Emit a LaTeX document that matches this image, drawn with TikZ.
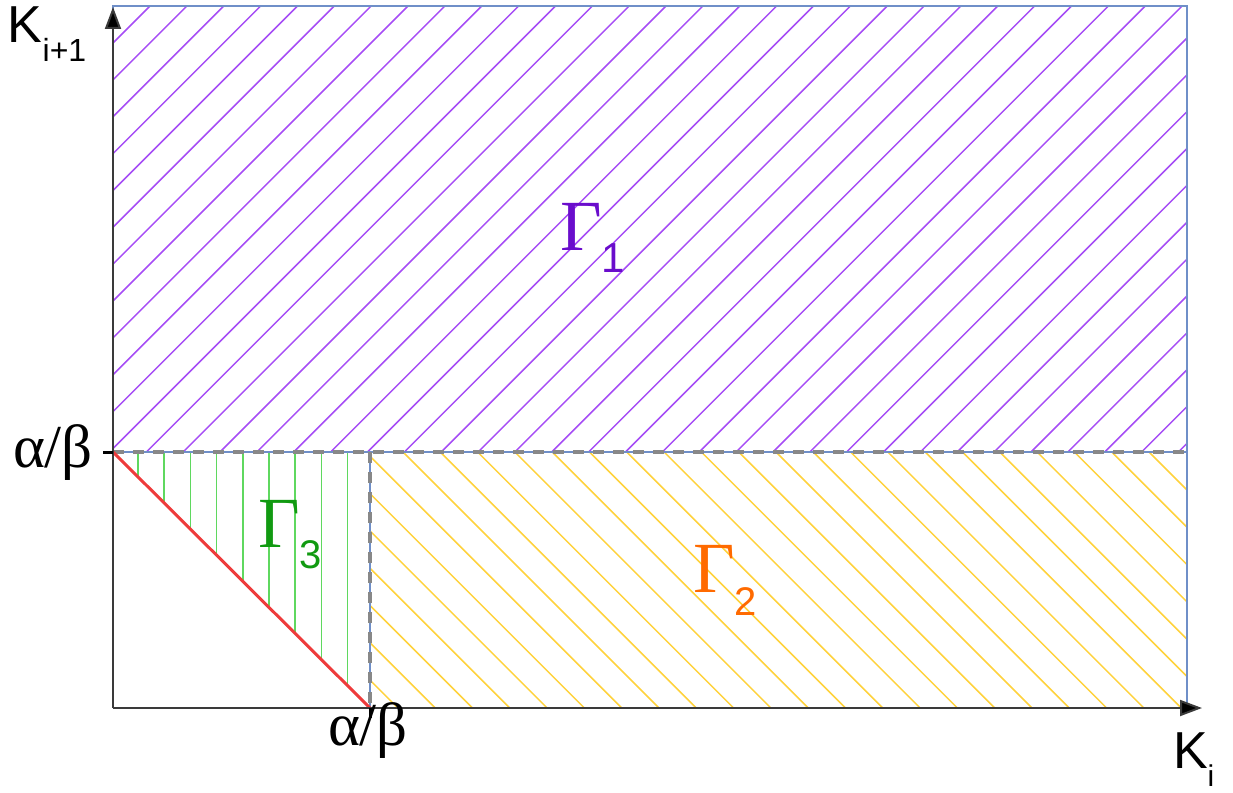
\documentclass[tikz,border=0pt]{standalone}
\usepackage{fontspec}
\setmainfont{Liberation Serif}
\newfontfamily\sansf{Liberation Sans}
\usetikzlibrary{arrows.meta}
\definecolor{hpurple}{HTML}{A64DF5}
\definecolor{tpurple}{HTML}{6A0DCC}
\definecolor{hyellow}{HTML}{FFD23C}
\definecolor{torange}{HTML}{FF6A00}
\definecolor{hgreen}{HTML}{5FD85F}
\definecolor{tgreen}{HTML}{119A11}
\definecolor{redline}{HTML}{EE3B3B}
\definecolor{boxblue}{HTML}{6F8FC8}
\definecolor{dashgray}{HTML}{888888}
\definecolor{axisgray}{HTML}{3A3A3A}
\tikzset{
  hatch/.style={line width=1.5pt},
  boxline/.style={draw=boxblue, line width=1.3pt},
  dashline/.style={draw=dashgray, line width=4.5pt, dash pattern=on 11pt off 9pt},
  axisline/.style={draw=axisgray, line width=2pt, -{Triangle[length=22pt,width=16pt,fill=black]}},
  tickmark/.style={draw=black, line width=3pt},
  lbl/.style={inner sep=0pt, outer sep=0pt},
}
\begin{document}
\begin{tikzpicture}[x=1pt,y=-1pt]
\useasboundingbox (0,0) rectangle (1233,792);
% named coordinates
\coordinate (O) at (113,708);
\coordinate (Ytop) at (113,7);
\coordinate (Xend) at (1202,708);
\coordinate (TL) at (113,6);
\coordinate (TR) at (1187,6);
\coordinate (MR) at (1187,452);
\coordinate (ML) at (113,452);
\coordinate (MC) at (370,452);
\coordinate (BC) at (370,708);
\coordinate (BR) at (1187,708);
\coordinate (YT) at (103,452);
\coordinate (XT) at (370,718);
% purple hatch (rising to the right)
\begin{scope}
  \clip (TL) rectangle (MR);
  \foreach \k in {-1,...,42} {
    \pgfmathsetmacro{\c}{156+36.86*\k}
    \draw[hatch, hpurple] (\c,0) -- ({\c-470},470);
  }
\end{scope}
% yellow hatch (falling to the right)
\begin{scope}
  \clip (MC) rectangle (BR);
  \foreach \k in {-1,...,30} {
    \pgfmathsetmacro{\c}{697-37.3*\k}
    \draw[hatch, hyellow] ({\c+440},440) -- ({\c+720},720);
  }
\end{scope}
% green hatch
\begin{scope}
  \clip (ML) -- (MC) -- (BC) -- cycle;
  \foreach \k in {0,...,8} {
    \pgfmathsetmacro{\xx}{138+26.2*\k}
    \draw[hatch, hgreen] (\xx,450) -- (\xx,710);
  }
\end{scope}
% blue outlines
\draw[boxline] (ML) -- (TL) -- (TR) -- (MR) -- (BR);
\draw[boxline] (ML) -- (MR);
\draw[boxline] (MC) -- (BC);
% dashed lines
\draw[dashline] (ML) -- (MR);
\draw[dashline] (MC) -- (BC);
% red diagonal
\draw[draw=redline, line width=3pt] (ML) -- (BC);
% axes
\draw[axisline] (O) -- (Ytop);
\draw[axisline] (O) -- (Xend);
\draw[tickmark] (YT) -- (ML);
\draw[tickmark] (BC) -- (XT);
% labels
\node[lbl, anchor=base west] (kyl) at (8,42) {\sansf\fontsize{52}{52}\selectfont K\raisebox{-20pt}{\fontsize{32}{32}\selectfont i+1}};
\node[lbl, anchor=base west] (kxl) at (1173,768) {\sansf\fontsize{52}{52}\selectfont K\raisebox{-18pt}{\fontsize{30}{30}\selectfont i}};
\node[lbl, anchor=base west] (aby) at (13,467) {\fontsize{61}{61}\selectfont α/β};
\node[lbl, anchor=base] (abx) at (368,745) {\fontsize{61}{61}\selectfont α/β};
\node[lbl, anchor=base west, text=tpurple] (g1) at (560,250) {\fontsize{72}{72}\selectfont Γ\raisebox{-22pt}{\sansf\fontsize{42}{42}\selectfont 1}};
\node[lbl, anchor=base west, text=torange] (g2) at (693,592) {\fontsize{72}{72}\selectfont Γ\raisebox{-23pt}{\sansf\fontsize{40}{40}\selectfont 2}};
\node[lbl, anchor=base west, text=tgreen] (g3) at (258,547) {\fontsize{72}{72}\selectfont Γ\raisebox{-21pt}{\sansf\fontsize{40}{40}\selectfont 3}};
\end{tikzpicture}
\end{document}
